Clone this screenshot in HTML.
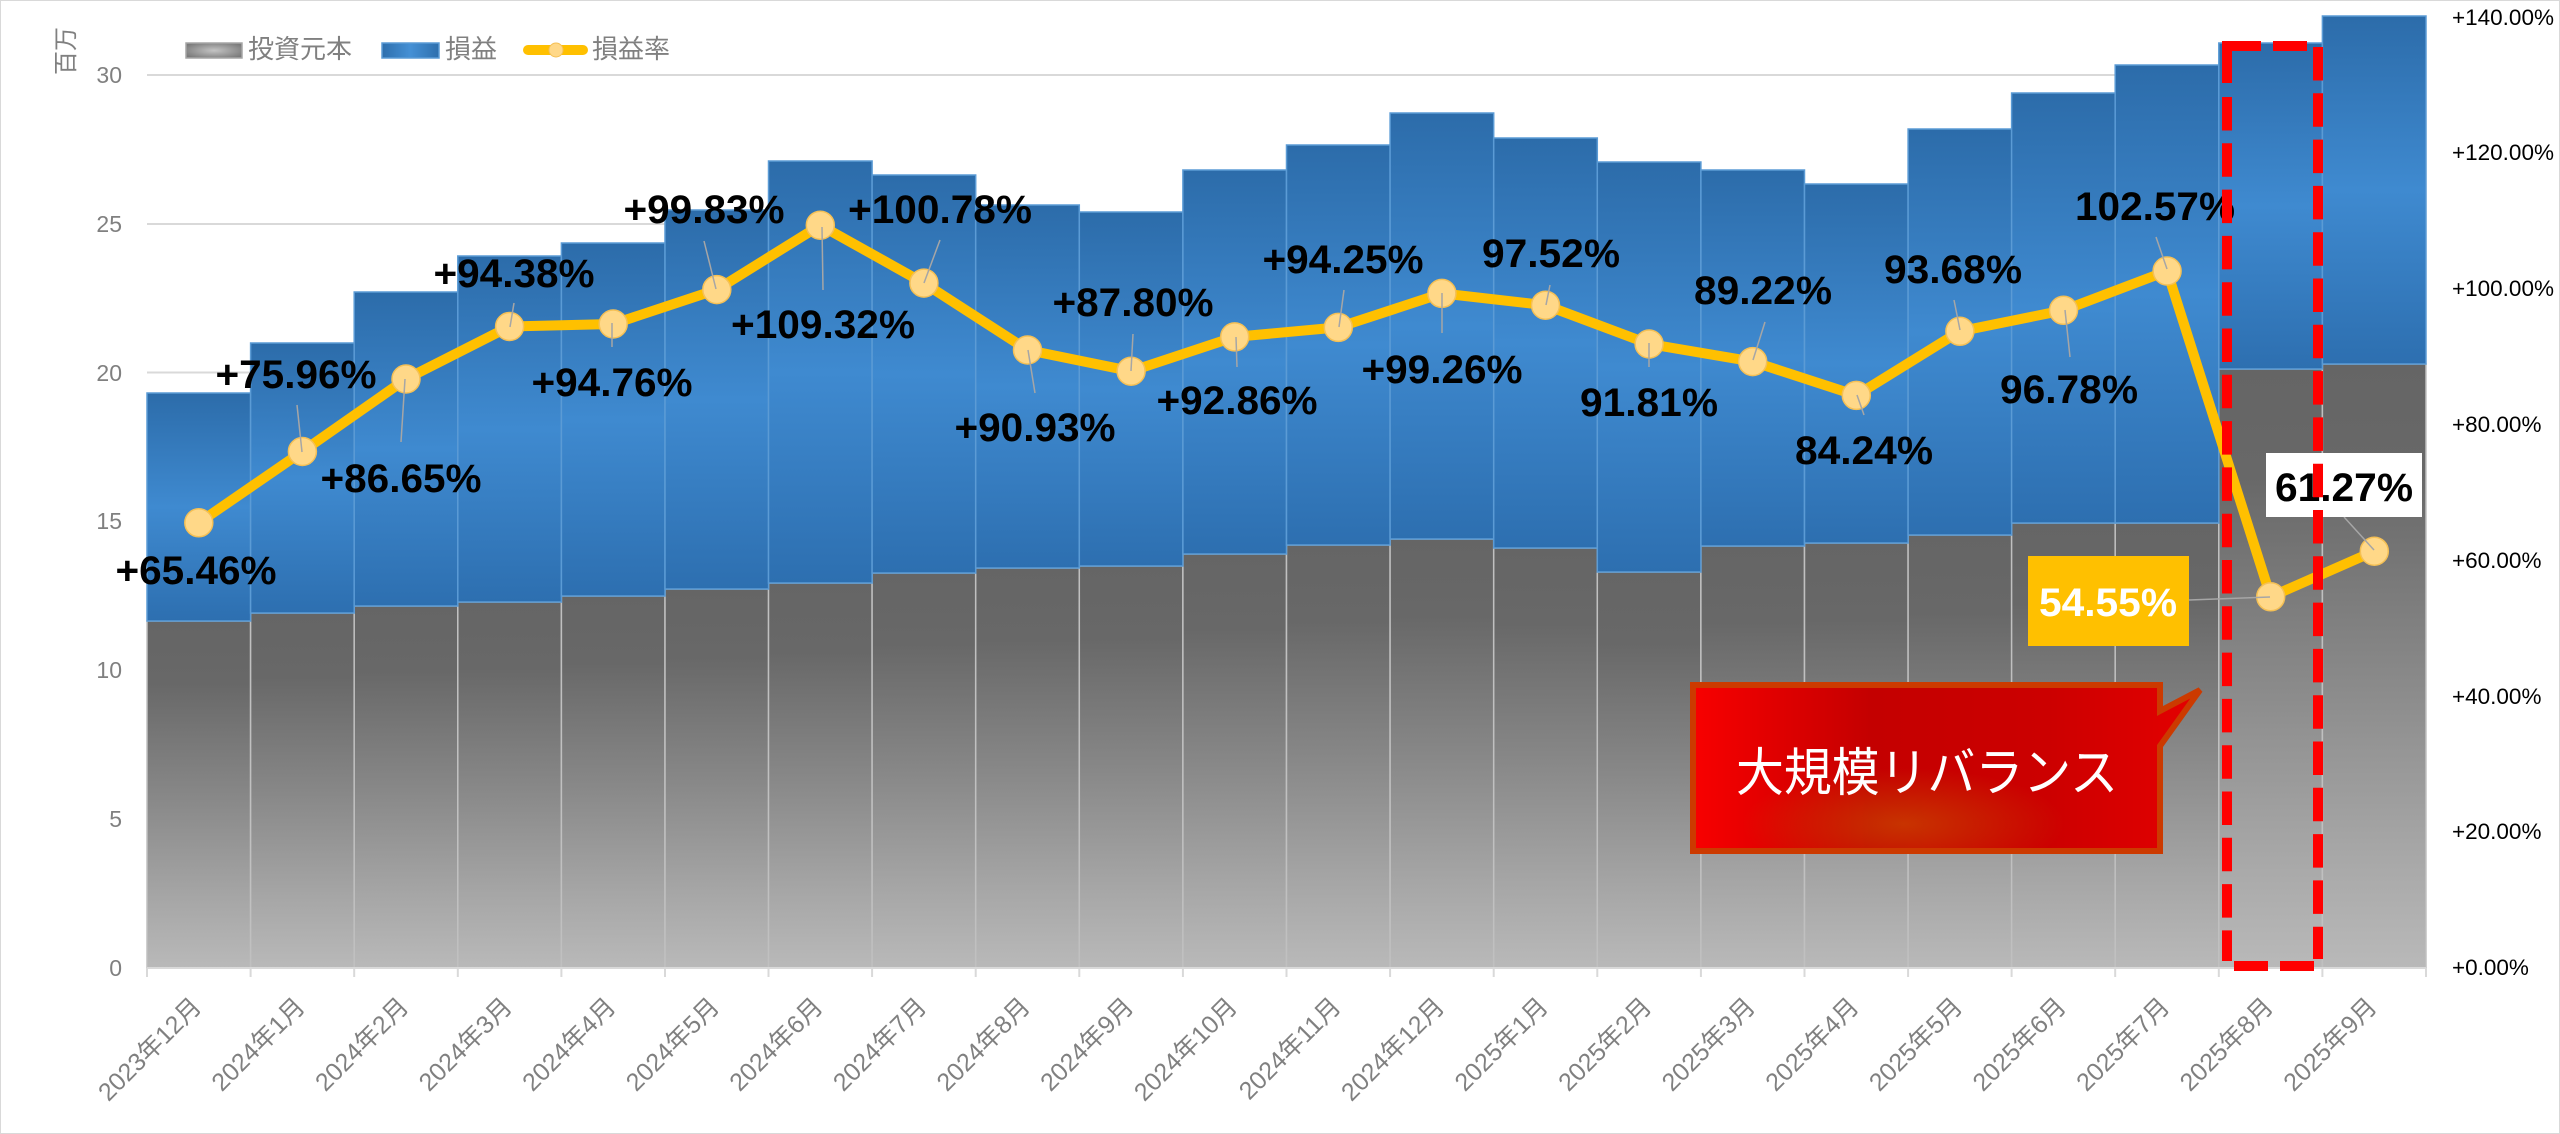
<!DOCTYPE html>
<html><head><meta charset="utf-8"><style>
html,body{margin:0;padding:0;background:#fff;}
svg{display:block;}
.ax{font-family:"Liberation Sans","Noto Sans CJK JP",sans-serif;}
.lb{font-family:"Liberation Sans",sans-serif;font-weight:bold;font-size:40px;fill:#000;text-anchor:middle;}
</style></head><body>
<svg width="2560" height="1134" viewBox="0 0 2560 1134" xmlns="http://www.w3.org/2000/svg">
<defs>
<linearGradient id="gg" x1="0" y1="0" x2="0" y2="1">
<stop offset="0" stop-color="#656565"/><stop offset="0.18" stop-color="#686868"/><stop offset="0.5" stop-color="#878787"/><stop offset="0.8" stop-color="#a6a6a6"/><stop offset="1" stop-color="#b9b9b9"/>
</linearGradient>
<linearGradient id="bg" x1="0" y1="0" x2="0" y2="1">
<stop offset="0" stop-color="#2c6caa"/><stop offset="0.5" stop-color="#3f8ad0"/><stop offset="1" stop-color="#2d6fb0"/>
</linearGradient>
<radialGradient id="lgg" cx="0.5" cy="0.5" r="0.6"><stop offset="0" stop-color="#c4c4c4"/><stop offset="1" stop-color="#7a7a7a"/></radialGradient>
<linearGradient id="lbg" x1="0" y1="0" x2="1" y2="0"><stop offset="0" stop-color="#2e6fad"/><stop offset="0.5" stop-color="#4590d5"/><stop offset="1" stop-color="#2e6fad"/></linearGradient>
<linearGradient id="cg" x1="0" y1="0" x2="1" y2="0"><stop offset="0" stop-color="#f80000"/><stop offset="0.35" stop-color="#c40000"/><stop offset="0.7" stop-color="#cc0000"/><stop offset="1" stop-color="#e40000"/></linearGradient>
<radialGradient id="co" cx="0.45" cy="0.85" r="0.35"><stop offset="0" stop-color="#c84000" stop-opacity="0.8"/><stop offset="1" stop-color="#c84000" stop-opacity="0"/></radialGradient>
</defs>
<rect x="0.5" y="0.5" width="2559" height="1133" fill="#fff" stroke="#d9d9d9" stroke-width="1"/>

<!-- gridlines -->
<g stroke="#d9d9d9" stroke-width="2">
<line x1="147" y1="75" x2="2426" y2="75"/>
<line x1="147" y1="224" x2="2426" y2="224"/>
<line x1="147" y1="372.5" x2="2426" y2="372.5"/>
<line x1="147" y1="521" x2="2426" y2="521"/>
<line x1="147" y1="670" x2="2426" y2="670"/>
<line x1="147" y1="819" x2="2426" y2="819"/>
</g>

<!-- gray bars -->
<g fill="url(#gg)" stroke="#c0c0c0" stroke-width="1.5">
<rect x="147" y="621" width="103.6" height="347"/>
<rect x="250.6" y="613" width="103.6" height="355"/>
<rect x="354.2" y="606" width="103.6" height="362"/>
<rect x="457.8" y="602" width="103.6" height="366"/>
<rect x="561.4" y="596" width="103.6" height="372"/>
<rect x="665" y="589" width="103.6" height="379"/>
<rect x="768.5" y="583" width="103.6" height="385"/>
<rect x="872.1" y="573" width="103.6" height="395"/>
<rect x="975.7" y="568" width="103.6" height="400"/>
<rect x="1079.3" y="566" width="103.6" height="402"/>
<rect x="1182.9" y="554" width="103.6" height="414"/>
<rect x="1286.5" y="545" width="103.6" height="423"/>
<rect x="1390.1" y="539" width="103.6" height="429"/>
<rect x="1493.7" y="548" width="103.6" height="420"/>
<rect x="1597.3" y="572" width="103.6" height="396"/>
<rect x="1700.9" y="546" width="103.6" height="422"/>
<rect x="1804.5" y="543" width="103.6" height="425"/>
<rect x="1908.1" y="535" width="103.6" height="433"/>
<rect x="2011.6" y="523" width="103.6" height="445"/>
<rect x="2115.2" y="523" width="103.6" height="445"/>
<rect x="2218.8" y="369" width="103.6" height="599"/>
<rect x="2322.4" y="364" width="103.6" height="604"/>
</g>
<!-- blue bars -->
<g fill="url(#bg)" stroke="#5b9bd5" stroke-width="1.5">
<rect x="147" y="393" width="103.6" height="228"/>
<rect x="250.6" y="343" width="103.6" height="270"/>
<rect x="354.2" y="292" width="103.6" height="314"/>
<rect x="457.8" y="256" width="103.6" height="346"/>
<rect x="561.4" y="243" width="103.6" height="353"/>
<rect x="665" y="210" width="103.6" height="379"/>
<rect x="768.5" y="161" width="103.6" height="422"/>
<rect x="872.1" y="175" width="103.6" height="398"/>
<rect x="975.7" y="205" width="103.6" height="363"/>
<rect x="1079.3" y="212" width="103.6" height="354"/>
<rect x="1182.9" y="170" width="103.6" height="384"/>
<rect x="1286.5" y="145" width="103.6" height="400"/>
<rect x="1390.1" y="113" width="103.6" height="426"/>
<rect x="1493.7" y="138" width="103.6" height="410"/>
<rect x="1597.3" y="162" width="103.6" height="410"/>
<rect x="1700.9" y="170" width="103.6" height="376"/>
<rect x="1804.5" y="184" width="103.6" height="359"/>
<rect x="1908.1" y="129" width="103.6" height="406"/>
<rect x="2011.6" y="93" width="103.6" height="430"/>
<rect x="2115.2" y="65" width="103.6" height="458"/>
<rect x="2218.8" y="43" width="103.6" height="326"/>
<rect x="2322.4" y="16" width="103.6" height="348"/>
</g>

<!-- x axis -->
<g stroke="#d9d9d9" stroke-width="2">
<line x1="147" y1="968" x2="2426" y2="968"/>
<line x1="147" y1="968" x2="147" y2="977"/><line x1="250.6" y1="968" x2="250.6" y2="977"/><line x1="354.2" y1="968" x2="354.2" y2="977"/><line x1="457.8" y1="968" x2="457.8" y2="977"/><line x1="561.4" y1="968" x2="561.4" y2="977"/><line x1="665" y1="968" x2="665" y2="977"/><line x1="768.5" y1="968" x2="768.5" y2="977"/><line x1="872.1" y1="968" x2="872.1" y2="977"/><line x1="975.7" y1="968" x2="975.7" y2="977"/><line x1="1079.3" y1="968" x2="1079.3" y2="977"/><line x1="1182.9" y1="968" x2="1182.9" y2="977"/><line x1="1286.5" y1="968" x2="1286.5" y2="977"/><line x1="1390.1" y1="968" x2="1390.1" y2="977"/><line x1="1493.7" y1="968" x2="1493.7" y2="977"/><line x1="1597.3" y1="968" x2="1597.3" y2="977"/><line x1="1700.9" y1="968" x2="1700.9" y2="977"/><line x1="1804.5" y1="968" x2="1804.5" y2="977"/><line x1="1908.1" y1="968" x2="1908.1" y2="977"/><line x1="2011.6" y1="968" x2="2011.6" y2="977"/><line x1="2115.2" y1="968" x2="2115.2" y2="977"/><line x1="2218.8" y1="968" x2="2218.8" y2="977"/><line x1="2322.4" y1="968" x2="2322.4" y2="977"/><line x1="2426" y1="968" x2="2426" y2="977"/>
</g>

<!-- left axis labels -->
<g class="ax" font-size="23" fill="#808080" text-anchor="end">
<text x="122" y="976">0</text>
<text x="122" y="827">5</text>
<text x="122" y="678">10</text>
<text x="122" y="529">15</text>
<text x="122" y="381">20</text>
<text x="122" y="232">25</text>
<text x="122" y="83">30</text>
</g>
<text class="ax" x="74" y="51" font-size="24" fill="#808080" text-anchor="middle" transform="rotate(-90 74 51)">百万</text>

<!-- right axis labels -->
<g class="ax" font-size="22.5" fill="#000">
<text x="2452" y="975">+0.00%</text>
<text x="2452" y="839">+20.00%</text>
<text x="2452" y="704">+40.00%</text>
<text x="2452" y="568">+60.00%</text>
<text x="2452" y="432">+80.00%</text>
<text x="2452" y="296">+100.00%</text>
<text x="2452" y="160">+120.00%</text>
<text x="2452" y="25">+140.00%</text>
</g>

<!-- x labels -->
<g class="ax" font-size="25" fill="#808080" text-anchor="end">
<text x="202.8" y="1008" transform="rotate(-45 202.8 1008)">2023年12月</text>
<text x="306.4" y="1008" transform="rotate(-45 306.4 1008)">2024年1月</text>
<text x="410" y="1008" transform="rotate(-45 410 1008)">2024年2月</text>
<text x="513.6" y="1008" transform="rotate(-45 513.6 1008)">2024年3月</text>
<text x="617.2" y="1008" transform="rotate(-45 617.2 1008)">2024年4月</text>
<text x="720.8" y="1008" transform="rotate(-45 720.8 1008)">2024年5月</text>
<text x="824.3" y="1008" transform="rotate(-45 824.3 1008)">2024年6月</text>
<text x="927.9" y="1008" transform="rotate(-45 927.9 1008)">2024年7月</text>
<text x="1031.5" y="1008" transform="rotate(-45 1031.5 1008)">2024年8月</text>
<text x="1135.1" y="1008" transform="rotate(-45 1135.1 1008)">2024年9月</text>
<text x="1238.7" y="1008" transform="rotate(-45 1238.7 1008)">2024年10月</text>
<text x="1342.3" y="1008" transform="rotate(-45 1342.3 1008)">2024年11月</text>
<text x="1445.9" y="1008" transform="rotate(-45 1445.9 1008)">2024年12月</text>
<text x="1549.5" y="1008" transform="rotate(-45 1549.5 1008)">2025年1月</text>
<text x="1653.1" y="1008" transform="rotate(-45 1653.1 1008)">2025年2月</text>
<text x="1756.7" y="1008" transform="rotate(-45 1756.7 1008)">2025年3月</text>
<text x="1860.3" y="1008" transform="rotate(-45 1860.3 1008)">2025年4月</text>
<text x="1963.9" y="1008" transform="rotate(-45 1963.9 1008)">2025年5月</text>
<text x="2067.5" y="1008" transform="rotate(-45 2067.5 1008)">2025年6月</text>
<text x="2171.1" y="1008" transform="rotate(-45 2171.1 1008)">2025年7月</text>
<text x="2274.7" y="1008" transform="rotate(-45 2274.7 1008)">2025年8月</text>
<text x="2378.3" y="1008" transform="rotate(-45 2378.3 1008)">2025年9月</text>
</g>

<!-- legend -->
<rect x="186" y="43" width="56" height="15" fill="url(#lgg)" stroke="#a6a6a6" stroke-width="1.5"/>
<text class="ax" x="248" y="58" font-size="26" fill="#808080">投資元本</text>
<rect x="382" y="43" width="57" height="15" fill="url(#lbg)" stroke="#5b9bd5" stroke-width="1.5"/>
<text class="ax" x="445" y="58" font-size="26" fill="#808080">損益</text>
<line x1="528" y1="50" x2="583" y2="50" stroke="#FFC000" stroke-width="10" stroke-linecap="round"/>
<circle cx="556" cy="50" r="7" fill="#FFD888" stroke="#F5C055" stroke-width="1"/>
<text class="ax" x="592" y="58" font-size="26" fill="#808080">損益率</text>

<!-- line series -->
<polyline fill="none" stroke="#FFC000" stroke-width="10" stroke-linejoin="round" points="198.8,522.8 302.4,451.5 406,379 509.6,326.5 613.2,324 716.8,289.6 820.3,225.2 923.9,283.1 1027.5,350 1131.1,371.2 1234.7,336.9 1338.3,327.4 1441.9,293.4 1545.5,305.2 1649.1,344 1752.7,361.6 1856.3,395.4 1959.9,331.3 2063.5,310.3 2167.1,271 2270.7,596.8 2374.3,551.2"/>
<g fill="#FFD888" stroke="#F5C055" stroke-width="1.5">
<circle cx="198.8" cy="522.8" r="14"/><circle cx="302.4" cy="451.5" r="14"/><circle cx="406" cy="379" r="14"/><circle cx="509.6" cy="326.5" r="14"/><circle cx="613.2" cy="324" r="14"/><circle cx="716.8" cy="289.6" r="14"/><circle cx="820.3" cy="225.2" r="14"/><circle cx="923.9" cy="283.1" r="14"/><circle cx="1027.5" cy="350" r="14"/><circle cx="1131.1" cy="371.2" r="14"/><circle cx="1234.7" cy="336.9" r="14"/><circle cx="1338.3" cy="327.4" r="14"/><circle cx="1441.9" cy="293.4" r="14"/><circle cx="1545.5" cy="305.2" r="14"/><circle cx="1649.1" cy="344" r="14"/><circle cx="1752.7" cy="361.6" r="14"/><circle cx="1856.3" cy="395.4" r="14"/><circle cx="1959.9" cy="331.3" r="14"/><circle cx="2063.5" cy="310.3" r="14"/><circle cx="2167.1" cy="271" r="14"/><circle cx="2270.7" cy="596.8" r="14"/><circle cx="2374.3" cy="551.2" r="14"/>
</g>

<!-- leader lines -->
<g stroke="#a6a6a6" stroke-width="1.5">
<line x1="297" y1="405" x2="302" y2="452"/>
<line x1="405" y1="379" x2="401" y2="442"/>
<line x1="514" y1="303" x2="510" y2="327"/>
<line x1="612" y1="323" x2="612" y2="347"/>
<line x1="704" y1="241" x2="716" y2="289"/>
<line x1="822" y1="227" x2="823" y2="290"/>
<line x1="940" y1="240" x2="924" y2="283"/>
<line x1="1028" y1="350" x2="1035" y2="393"/>
<line x1="1133" y1="334" x2="1131" y2="371"/>
<line x1="1236" y1="337" x2="1237" y2="367"/>
<line x1="1344" y1="290" x2="1339" y2="327"/>
<line x1="1442" y1="293" x2="1442" y2="333"/>
<line x1="1550" y1="285" x2="1546" y2="305"/>
<line x1="1649" y1="343" x2="1649" y2="367"/>
<line x1="1765" y1="322" x2="1753" y2="360"/>
<line x1="1857" y1="395" x2="1864" y2="415"/>
<line x1="1954" y1="300" x2="1960" y2="330"/>
<line x1="2065" y1="310" x2="2070" y2="357"/>
<line x1="2156" y1="237" x2="2167" y2="269"/>
<line x1="2189" y1="600" x2="2270" y2="597"/>
<line x1="2344" y1="517" x2="2374" y2="550"/>
</g>

<!-- data labels -->
<g class="lb">
<text x="196" y="584" textLength="161" lengthAdjust="spacingAndGlyphs">+65.46%</text>
<text x="296" y="388" textLength="161" lengthAdjust="spacingAndGlyphs">+75.96%</text>
<text x="401" y="492" textLength="161" lengthAdjust="spacingAndGlyphs">+86.65%</text>
<text x="514" y="287" textLength="161" lengthAdjust="spacingAndGlyphs">+94.38%</text>
<text x="612" y="396" textLength="161" lengthAdjust="spacingAndGlyphs">+94.76%</text>
<text x="704" y="223" textLength="161" lengthAdjust="spacingAndGlyphs">+99.83%</text>
<text x="823" y="338" textLength="184" lengthAdjust="spacingAndGlyphs">+109.32%</text>
<text x="940" y="223" textLength="184" lengthAdjust="spacingAndGlyphs">+100.78%</text>
<text x="1035" y="441" textLength="161" lengthAdjust="spacingAndGlyphs">+90.93%</text>
<text x="1133" y="316" textLength="161" lengthAdjust="spacingAndGlyphs">+87.80%</text>
<text x="1237" y="414" textLength="161" lengthAdjust="spacingAndGlyphs">+92.86%</text>
<text x="1343" y="273" textLength="161" lengthAdjust="spacingAndGlyphs">+94.25%</text>
<text x="1442" y="383" textLength="161" lengthAdjust="spacingAndGlyphs">+99.26%</text>
<text x="1551" y="267" textLength="138" lengthAdjust="spacingAndGlyphs">97.52%</text>
<text x="1649" y="416" textLength="138" lengthAdjust="spacingAndGlyphs">91.81%</text>
<text x="1763" y="304" textLength="138" lengthAdjust="spacingAndGlyphs">89.22%</text>
<text x="1864" y="464" textLength="138" lengthAdjust="spacingAndGlyphs">84.24%</text>
<text x="1953" y="283" textLength="138" lengthAdjust="spacingAndGlyphs">93.68%</text>
<text x="2069" y="403" textLength="138" lengthAdjust="spacingAndGlyphs">96.78%</text>
<text x="2155" y="220" textLength="160" lengthAdjust="spacingAndGlyphs">102.57%</text>
</g>
<rect x="2028" y="556" width="161" height="90" fill="#FFC000"/>
<text class="lb" x="2108" y="616" style="fill:#fff" textLength="138" lengthAdjust="spacingAndGlyphs">54.55%</text>
<rect x="2266" y="453" width="156" height="64" fill="#fff"/>
<text class="lb" x="2344" y="501" textLength="138" lengthAdjust="spacingAndGlyphs">61.27%</text>

<!-- red dashed rectangle -->
<g stroke="#ff0000" stroke-width="10" fill="none">
<line x1="2222" y1="46" x2="2261" y2="46"/>
<line x1="2273" y1="46" x2="2307" y2="46"/>
<line x1="2227" y1="41" x2="2227" y2="83"/>
<line x1="2227" y1="97" x2="2227" y2="961" stroke-dasharray="33.5 12.8"/>
<line x1="2318" y1="47" x2="2318" y2="959" stroke-dasharray="33.5 12.8"/>
<line x1="2234" y1="966" x2="2268" y2="966"/>
<line x1="2280" y1="966" x2="2314" y2="966"/>
</g>

<!-- callout -->
<path d="M1693,685 H2160 V711 L2200,690 L2160,746 V851 H1693 Z" fill="url(#cg)" stroke="#cc3a00" stroke-width="6" stroke-linejoin="miter"/>
<path d="M1696,688 H2157 V848 H1696 Z" fill="url(#co)"/>
<text x="1927" y="791" font-family="'Noto Sans CJK JP',sans-serif" font-size="52" fill="#fff" text-anchor="middle" textLength="382" lengthAdjust="spacingAndGlyphs">大規模リバランス</text>
</svg>
</body></html>
